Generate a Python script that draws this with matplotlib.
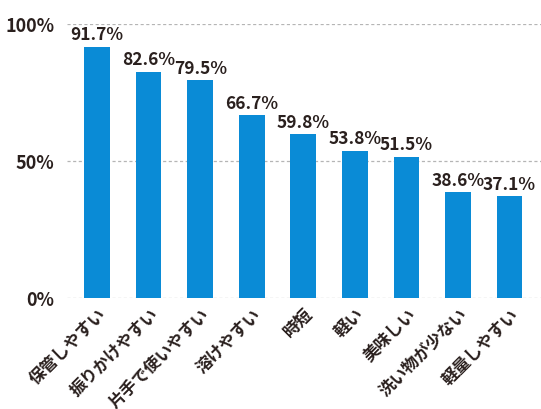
import matplotlib
matplotlib.use("Agg")
import matplotlib.pyplot as plt

plt.rcParams['font.family'] = ['Noto Sans CJK JP', 'DejaVu Sans']

categories = ['保管しやすい', '振りかけやすい', '片手で使いやすい', '溶けやすい', '時短',
              '軽い', '美味しい', '洗い物が少ない', '軽量しやすい']
values = [91.7, 82.6, 79.5, 66.7, 59.8, 53.8, 51.5, 38.6, 37.1]
yticks = [0, 50, 100]
ytick_labels = ['0%', '50%', '100%']

BAR_COLOR = '#0a8bd6'
TEXT_COLOR = '#2a201e'

fig = plt.figure(figsize=(5.41, 4.09), dpi=100)
ax = fig.add_axes([0.124, 0.271, 0.876, 0.670])

x = list(range(len(categories)))
ax.bar(x, values, width=0.5, color=BAR_COLOR, zorder=3)

for xi, v in zip(x, values):
    ax.annotate(f'{v}%', (xi, v), xytext=(0, 2), textcoords='offset points',
                ha='center', va='bottom', fontsize=12.5, fontweight='bold',
                color=TEXT_COLOR, zorder=4)

ax.set_xlim(-0.58, 8.61)
ax.set_ylim(0, 100)
ax.set_yticks(yticks)
ax.set_yticklabels(ytick_labels, fontsize=13, fontweight='bold', color=TEXT_COLOR)
ax.grid(axis='y', color='#b5b5b5', linestyle=(0, (2.5, 2)), linewidth=0.9, zorder=0)

ax.set_xticks(x)
ax.set_xticklabels(categories, rotation=45, ha='right', rotation_mode='anchor',
                   fontsize=12, fontweight='bold', color=TEXT_COLOR)
ax.tick_params(axis='both', length=0)
ax.tick_params(axis='x', pad=5)
ax.tick_params(axis='y', pad=9)

for s in ax.spines.values():
    s.set_visible(False)

fig.savefig('out.png', dpi=100)
